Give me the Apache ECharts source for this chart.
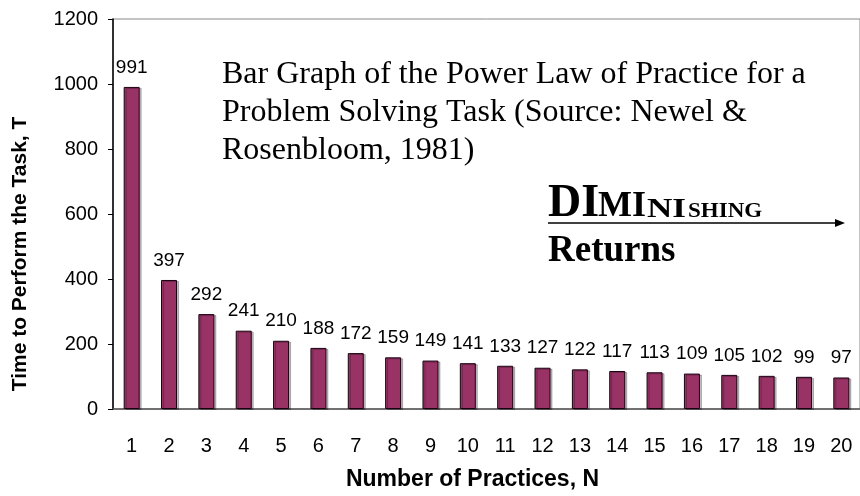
<!DOCTYPE html>
<html>
<head>
<meta charset="utf-8">
<script src="https://cdn.jsdelivr.net/npm/echarts@6/dist/echarts.min.js"></script>
<style>
html,body{margin:0;padding:0;background:#fff;}
#chart{width:860px;height:496px;}
</style>
</head>
<body>
<div id="chart"></div>
<script>
const categories = ['1','2','3','4','5','6','7','8','9','10','11','12','13','14','15','16','17','18','19','20'];
const times = [991,397,292,241,210,188,172,159,149,141,133,127,122,117,113,109,105,102,99,97];
const yTicks = {min:0, max:1200, interval:200};
const xName = 'Number of Practices, N';
const yName = 'Time to Perform the Task, T';
const noteText = 'Bar Graph of the Power Law of Practice for a\nProblem Solving Task (Source: Newel &\nRosenbloom, 1981)';

const SANS = "'Liberation Sans', Arial, sans-serif";
const SERIF = "'Liberation Serif', 'Times New Roman', serif";

const chart = echarts.init(document.getElementById('chart'), null, {renderer:'canvas'});
chart.setOption({
  backgroundColor:'#ffffff',
  animation:false,
  grid:{left:113, top:19, width:752, height:391, show:true, borderColor:'#888888', borderWidth:1, containLabel:false},
  xAxis:{
    type:'category', data:categories,
    axisLine:{lineStyle:{color:'#555555', width:1.5}},
    axisTick:{show:false},
    axisLabel:{color:'#000', fontSize:20, fontFamily:SANS, margin:27},
    name:xName, nameLocation:'middle', nameGap:59,
    nameTextStyle:{color:'#000', fontSize:23, fontWeight:'bold', fontFamily:SANS, padding:[0,28,0,0]}
  },
  yAxis:{
    type:'value', min:yTicks.min, max:yTicks.max, interval:yTicks.interval,
    axisLine:{show:true, lineStyle:{color:'#000', width:1.5}},
    axisTick:{show:true, inside:false, length:5, lineStyle:{color:'#000'}},
    splitLine:{show:false},
    axisLabel:{color:'#000', fontSize:20, fontFamily:SANS, margin:15, formatter:function(v){return String(v);}},
    name:yName, nameLocation:'middle', nameGap:82,
    nameTextStyle:{color:'#000', fontSize:21, fontWeight:'bold', fontFamily:SANS, padding:[0,80,0,0]}
  },
  series:[{
    type:'bar', data:times, barWidth:16,
    itemStyle:{color:'#993366', borderColor:'#1a0010', borderWidth:1,
      shadowColor:'rgba(0,0,0,0.25)', shadowOffsetX:2, shadowOffsetY:1, shadowBlur:0},
    label:{show:true, position:'top', distance:10, color:'#000', fontSize:19, fontFamily:SANS}
  }],
  graphic:[
    {type:'text', left:222, top:56, style:{text:noteText, font:"32px "+SERIF, fill:'#000', lineHeight:38}},
    {type:'text', x:548, y:204, style:{text:'DI', fontSize:46, fontWeight:'bold', fontFamily:SERIF, fill:'#000', verticalAlign:'middle', align:'left'}},
    {type:'text', x:598, y:207, style:{text:'MI', fontSize:36, fontWeight:'bold', fontFamily:SERIF, fill:'#000', verticalAlign:'middle', align:'left'}},
    {type:'text', x:647, y:209.5, scaleX:1.25, style:{text:'NI', fontSize:28, fontWeight:'bold', fontFamily:SERIF, fill:'#000', verticalAlign:'middle', align:'left'}},
    {type:'text', x:688, y:212, scaleX:1.15, style:{text:'SHING', fontSize:20, fontWeight:'bold', fontFamily:SERIF, fill:'#000', verticalAlign:'middle', align:'left'}},
    {type:'line', shape:{x1:548, y1:223, x2:836, y2:223}, style:{stroke:'#000', lineWidth:1.5}},
    {type:'polygon', shape:{points:[[835,219],[845,223],[835,227]]}, style:{fill:'#000'}},
    {type:'text', x:548, y:251, style:{text:'Returns', fontSize:37, fontWeight:'bold', fontFamily:SERIF, fill:'#000', verticalAlign:'middle', align:'left'}}
  ]
});
</script>
</body>
</html>
